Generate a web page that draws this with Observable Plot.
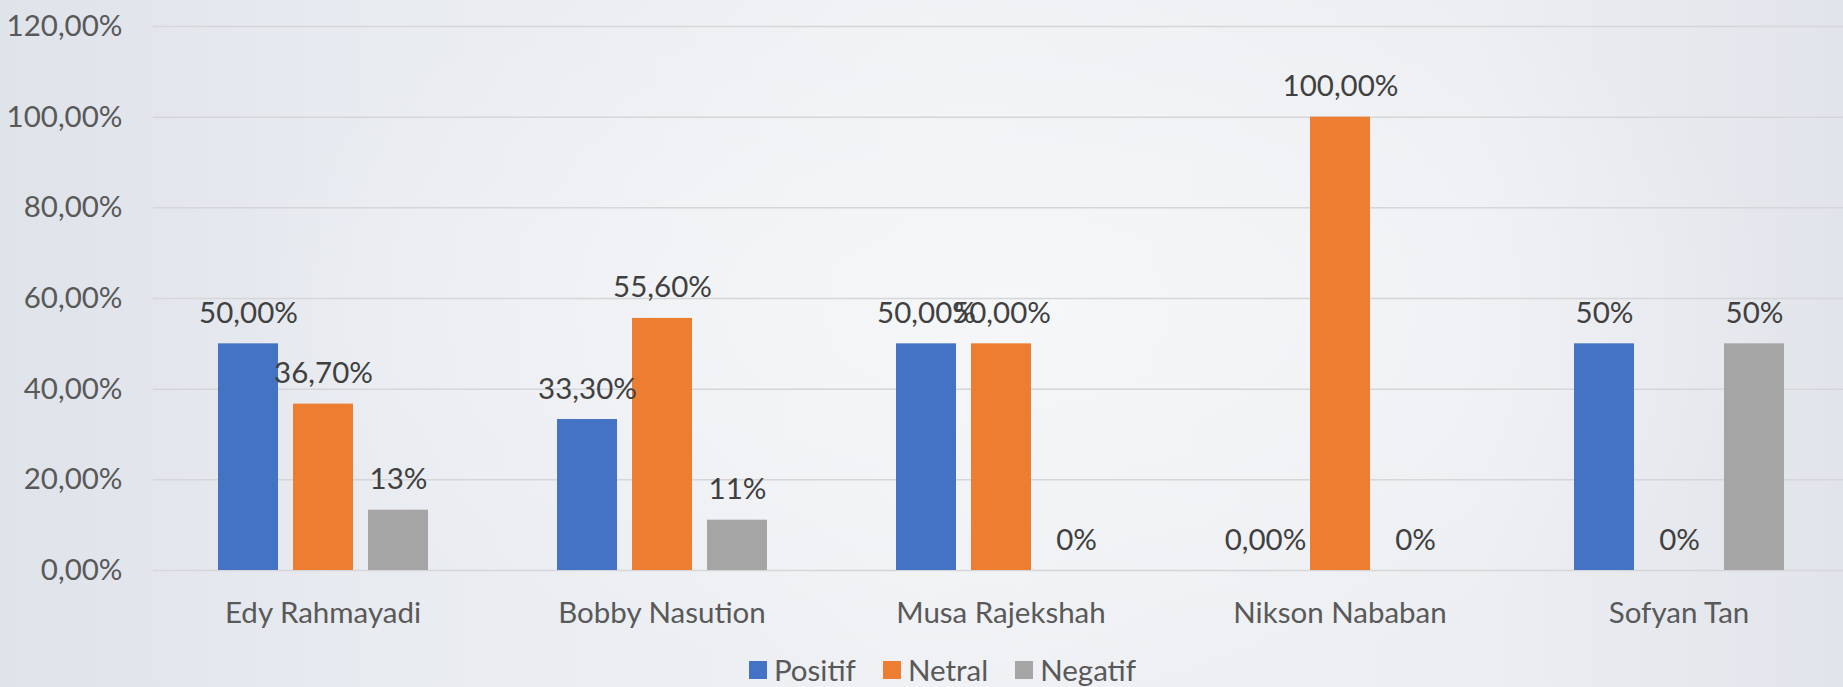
<!DOCTYPE html>
<html>
<head>
<meta charset="utf-8">
<script src="https://cdn.jsdelivr.net/npm/d3@7"></script>
<script src="https://cdn.jsdelivr.net/npm/@observablehq/plot@0.6"></script>
<style>
  html, body { margin: 0; padding: 0; }
  #wrap {
    position: relative; width: 1843px; height: 687px; overflow: hidden;
    background:
      radial-gradient(ellipse 60% 80% at 55% 45%, rgba(246,247,249,0.9), rgba(246,247,249,0) 70%),
      linear-gradient(90deg, #dfe3ea 0%, #e8ebf0 20%, #eff1f4 50%, #eceef2 80%, #e1e4ea 100%);
    font-family: Lato, "Open Sans", sans-serif;
  }
  #chart { position: absolute; left: 0; top: 0; }
  #legend { position: absolute; left: 0; top: 654px; width: 1843px; height: 31px;
    display: flex; justify-content: center; align-items: center; padding-left: 42px; box-sizing: border-box; }
  .lg-swatches { font-family: Lato, sans-serif !important; font-size: 29.5px !important; color: #595959 !important; min-height: 0 !important; margin: 0 !important; }
  .lg-swatch { margin-right: 27px !important; }
  .lg-swatch:last-child { margin-right: 0 !important; }
  .lg-swatch > svg { margin-right: 7px !important; }
</style>
</head>
<body>
<div id="wrap">
  <div id="chart"></div>
  <div id="legend"></div>
</div>
<script>
// ---- data ----
const candidates = ["Edy Rahmayadi", "Bobby Nasution", "Musa Rajekshah", "Nikson Nababan", "Sofyan Tan"];
const series = ["Positif", "Netral", "Negatif"];
const colors = ["#4472C4", "#ED7D31", "#A5A5A5"];
const positif = [0.50, 0.333, 0.50, 0.00, 0.50];
const netral  = [0.367, 0.556, 0.50, 1.00, 0.00];
const negatif = [0.133, 0.111, 0.00, 0.00, 0.50];
const positifLabels = ["50,00%", "33,30%", "50,00%", "0,00%", "50%"];
const netralLabels  = ["36,70%", "55,60%", "50,00%", "100,00%", "0%"];
const negatifLabels = ["13%", "11%", "0%", "0%", "50%"];
const yTicks = [0, 0.2, 0.4, 0.6, 0.8, 1.0, 1.2];

const values = [positif, netral, negatif];
const labels = [positifLabels, netralLabels, negatifLabels];
const data = [];
candidates.forEach((c, i) => {
  series.forEach((s, j) => {
    data.push({cand: c, series: s, value: values[j][i], label: labels[j][i]});
  });
});

const fmt = d => (d * 100).toFixed(2).replace(".", ",") + "%";

const chart = Plot.plot({
  width: 1843,
  height: 650,
  marginLeft: 152,
  marginRight: 0,
  marginTop: 26,
  marginBottom: 80,
  style: {fontFamily: "Lato, sans-serif", fontSize: "29.5px", color: "#595959", background: "transparent", overflow: "visible"},
  fx: {domain: candidates, range: [152.3, 1849.3], padding: 0, label: null, tickSize: 0, tickPadding: 32},
  x: {domain: series, paddingInner: 0.205, paddingOuter: 0.85, axis: null},
  y: {domain: [0, 1.2], range: [570, 26], ticks: yTicks, tickFormat: fmt, tickSize: 0, tickPadding: 31, label: null},
  color: {domain: series, range: colors},
  facet: {data, x: "cand"},
  marks: [
    Plot.ruleY(yTicks, {stroke: "#d6d6d8", strokeWidth: 1.5}),
    Plot.barY(data, {x: "series", y: "value", fill: "series"}),
    Plot.text(data, {x: "series", y: "value", text: "label", lineAnchor: "bottom", dy: -21, fill: "#404040", fontSize: 29.5})
  ]
});
document.getElementById("chart").appendChild(chart);

const legend = Plot.legend({
  color: {domain: series, range: colors},
  swatchSize: 18,
  className: "lg"
});
document.getElementById("legend").appendChild(legend);
</script>
</body>
</html>
